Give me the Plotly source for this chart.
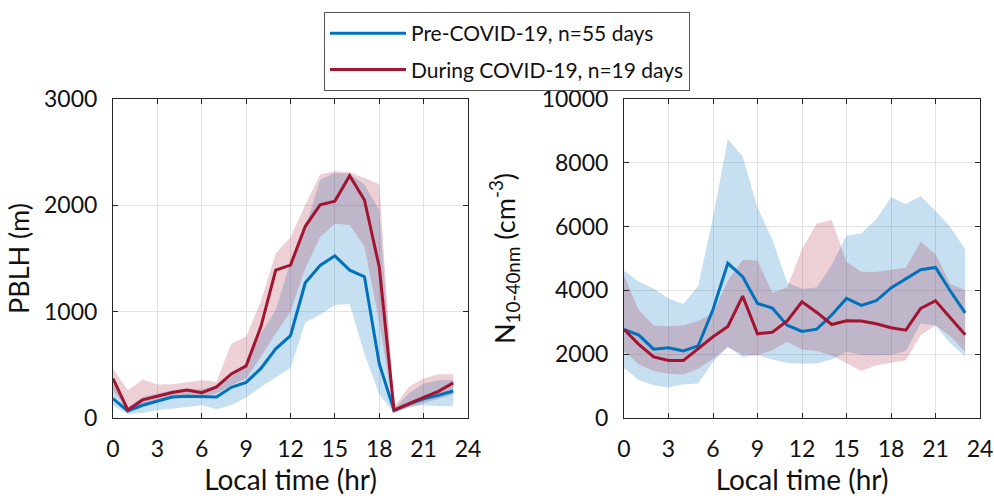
import plotly.graph_objects as go

# ---------------- data ----------------
hours = list(range(24))
x_ticks = [0, 3, 6, 9, 12, 15, 18, 21, 24]
pblh_ticks = [0, 1000, 2000, 3000]
n_ticks = [0, 2000, 4000, 6000, 8000, 10000]

# PBLH (m)
pblh_pre_mean = [183, 66, 120, 162, 198, 205, 205, 198, 289, 335, 466, 650, 775, 1272, 1435, 1525, 1390, 1329, 510, 70, 130, 180, 214, 254]
pblh_pre_hi = [324, 98, 198, 230, 261, 277, 267, 308, 380, 513, 795, 1015, 1470, 1785, 2240, 2305, 2296, 2193, 1957, 88, 230, 324, 355, 355]
pblh_pre_lo = [120, 35, 47, 73, 88, 104, 120, 82, 120, 192, 292, 381, 470, 898, 970, 1062, 1072, 600, 220, 50, 104, 120, 114, 110]
pblh_dur_mean = [371, 76, 170, 205, 240, 263, 238, 292, 415, 490, 860, 1391, 1438, 1803, 2005, 2040, 2278, 2050, 1420, 73, 135, 195, 250, 330]
pblh_dur_hi = [466, 261, 362, 315, 318, 340, 355, 340, 701, 764, 1100, 1548, 1700, 2003, 2290, 2320, 2310, 2256, 2200, 104, 292, 371, 412, 412]
pblh_dur_lo = [261, 72, 135, 167, 183, 198, 198, 230, 308, 371, 576, 795, 1000, 1408, 1700, 1826, 1816, 1612, 900, 55, 100, 140, 180, 220]

# N 10-40nm (cm^-3)
n_pre_mean = [2775, 2597, 2157, 2199, 2105, 2262, 3400, 4850, 4430, 3592, 3450, 2911, 2715, 2786, 3230, 3749, 3530, 3675, 4080, 4360, 4650, 4720, 3980, 3298]
n_pre_hi = [4617, 4271, 4063, 3749, 3571, 4136, 6300, 8743, 8197, 6600, 5600, 4250, 4050, 4090, 4796, 5710, 5790, 6230, 6922, 6712, 6963, 6500, 5990, 5280]
n_pre_lo = [1571, 1184, 1027, 955, 1058, 1080, 1759, 2230, 1916, 1969, 1834, 1727, 1700, 1707, 1834, 2073, 1978, 1969, 1978, 2100, 2960, 2900, 2336, 1937]
n_dur_mean = [2775, 2310, 1916, 1800, 1800, 2178, 2545, 2870, 3822, 2640, 2690, 3040, 3644, 3310, 2930, 3050, 3040, 2955, 2827, 2754, 3435, 3675, 3160, 2610]
n_dur_hi = [4470, 3382, 2900, 2880, 2900, 3040, 3300, 4300, 4960, 4932, 3930, 4090, 5300, 6100, 6209, 4900, 4586, 4576, 4650, 4712, 5528, 5130, 4200, 4010]
n_dur_lo = [2100, 1680, 1470, 1390, 1356, 1540, 1860, 2220, 1990, 1969, 2126, 2387, 2150, 2100, 1960, 1707, 1476, 1655, 1727, 1812, 2597, 2911, 2560, 2073]

label_pre = "Pre-COVID-19, n=55 days"
label_dur = "During COVID-19, n=19 days"

# ---------------- style ----------------
BLUE = "#0072BD"
RED = "#A2142F"
BLUE_FILL = "rgba(0,114,189,0.22)"
RED_FILL = "rgba(162,20,47,0.20)"
AX = "#262626"
GRID = "#E2E2E2"
FONT = "Lato"
TXT = "#111111"

fig = go.Figure()


def band(lo, hi, fill, xa, ya):
    fig.add_trace(go.Scatter(
        x=hours + hours[::-1], y=hi + lo[::-1], fill="toself", fillcolor=fill,
        mode="lines", line=dict(color="rgba(0,0,0,0)", width=0),
        hoverinfo="skip", showlegend=False, xaxis=xa, yaxis=ya))


def line(y, color, name, xa, ya, show):
    fig.add_trace(go.Scatter(
        x=hours, y=y, mode="lines", line=dict(color=color, width=3),
        name=name, legendgroup=name, showlegend=show, xaxis=xa, yaxis=ya))


band(pblh_pre_lo, pblh_pre_hi, BLUE_FILL, "x", "y")
band(pblh_dur_lo, pblh_dur_hi, RED_FILL, "x", "y")
line(pblh_pre_mean, BLUE, label_pre, "x", "y", True)
line(pblh_dur_mean, RED, label_dur, "x", "y", True)

band(n_pre_lo, n_pre_hi, BLUE_FILL, "x2", "y2")
band(n_dur_lo, n_dur_hi, RED_FILL, "x2", "y2")
line(n_pre_mean, BLUE, label_pre, "x2", "y2", False)
line(n_dur_mean, RED, label_dur, "x2", "y2", False)

W, H = 994, 496
ydom = [1 - 418 / H, 1 - 99 / H]

common = dict(showline=True, linecolor=AX, linewidth=1, mirror="ticks",
              ticks="inside", ticklen=5, tickcolor=AX, showgrid=True,
              gridcolor=GRID, gridwidth=1, zeroline=False, automargin=False,
              tickfont=dict(family=FONT, size=23, color=TXT))

xcommon = dict(common, range=[0, 24], tickvals=x_ticks,
               ticktext=[str(v) for v in x_ticks],
               title=dict(text="Local time (hr)", font=dict(family=FONT, size=28, color=TXT), standoff=13),
               ticklabelstandoff=10)

fig.update_layout(
    width=W, height=H,
    margin=dict(l=0, r=0, t=0, b=0, autoexpand=False),
    paper_bgcolor="white", plot_bgcolor="white",
    font=dict(family=FONT, color=TXT),
    xaxis=dict(xcommon, domain=[113 / W, 468 / W], anchor="y"),
    yaxis=dict(common, domain=ydom, range=[0, 3000], tickvals=pblh_ticks,
               ticktext=[str(v) for v in pblh_ticks], anchor="x",
               title=dict(text="PBLH (m)", font=dict(family=FONT, size=27, color=TXT), standoff=6),
               ticklabelstandoff=10),
    xaxis2=dict(xcommon, domain=[624 / W, 980 / W], anchor="y2"),
    yaxis2=dict(common, domain=ydom, range=[0, 10000], tickvals=n_ticks,
                ticktext=[str(v) for v in n_ticks], anchor="x2",
                title=dict(text="N<sub>10-40nm</sub> (cm<sup>-3</sup>)", font=dict(family=FONT, size=27, color=TXT), standoff=18),
                ticklabelstandoff=10),
    legend=dict(x=507 / W, y=1 - 12 / H, xanchor="center", yanchor="top",
                bordercolor="#555", borderwidth=1, bgcolor="white",
                font=dict(family=FONT, size=21, color=TXT), itemwidth=76,
                traceorder="grouped", tracegroupgap=6),
    showlegend=True,
)

fig.write_html("out.html", config={"displayModeBar": False},
               post_script="document.body.style.margin='0';document.body.style.overflow='hidden';")
